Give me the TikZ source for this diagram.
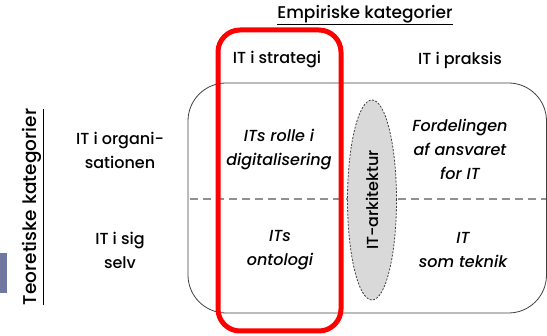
\documentclass[tikz,border=0pt]{standalone}
\usepackage{fontspec}
\setmainfont{Poppins}[UprightFont={* Medium}, ItalicFont={* Medium Italic}]
\usetikzlibrary{shapes.geometric}
\definecolor{slate}{HTML}{7078A0}
\definecolor{frame}{HTML}{404040}
\definecolor{dashgrey}{HTML}{909090}
\definecolor{ellfill}{HTML}{D9D9D9}
\begin{document}
\begin{tikzpicture}[x=1pt,y=-1pt,
  lbl/.style={font=\fontsize{16}{24}\selectfont, align=center, text=black, inner sep=0pt},
  itl/.style={lbl, font=\fontsize{16}{24}\selectfont\itshape}]
\useasboundingbox (0,0) rectangle (547,336);
\fill[slate] (0,253) rectangle (7,293);
\draw[frame, line width=0.8pt, rounded corners=38pt] (188,83) rectangle (546.5,313);
\coordinate (dl) at (190,199);
\coordinate (dr) at (546,199);
\draw[dashgrey, line width=1.5pt, dash pattern=on 8pt off 5pt] (dl) -- (dr);
\node[ellipse, draw=frame, fill=ellfill, dash pattern=on 2pt off 1.5pt, line width=0.8pt,
  minimum width=49pt, minimum height=200pt, inner sep=0pt] (arch) at (372,200) {};
\draw[red, line width=5pt, rounded corners=22pt] (218,30) rectangle (341,331);
\node[lbl, font=\fontsize{17}{24}\selectfont] (emp) at (365,15) {\underline{Empiriske kategorier}};
\node[lbl] (strat) at (277,60) {IT i strategi};
\node[lbl] (praks) at (460,60) {IT i praksis};
\node[lbl, rotate=90, font=\fontsize{18.5}{24}\selectfont] (teo) at (33,207) {\underline{Teoretiske kategorier}};
\node[lbl] (org) at (120,150) {IT i organi-\\sationen};
\node[lbl] (sig) at (120,250) {IT i sig\\selv};
\node[itl] (rolle) at (279,150) {ITs rolle i\\digitalisering};
\node[itl] (onto) at (280,250) {ITs\\ontologi};
\node[itl] (ford) at (460,149) {Fordelingen\\af ansvaret\\for IT};
\node[itl] (tek) at (463,250) {IT\\som teknik};
\node[lbl, rotate=90] (arkt) at (arch.center) {IT-arkitektur};
\end{tikzpicture}
\end{document}
